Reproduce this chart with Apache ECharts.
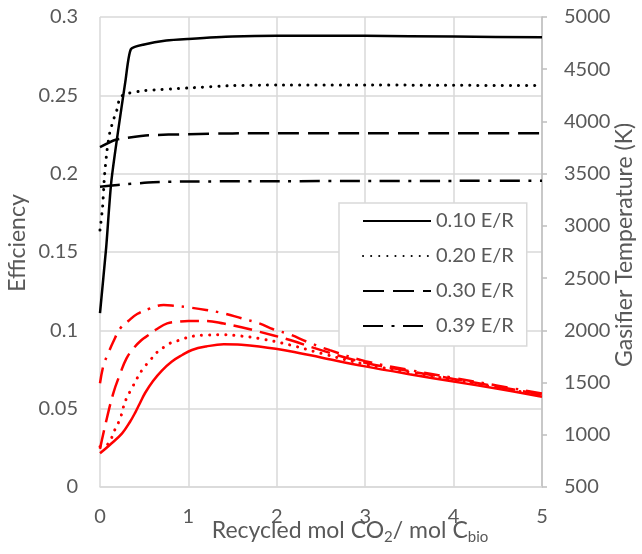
<!DOCTYPE html>
<html><head><meta charset="utf-8">
<script src="https://cdn.jsdelivr.net/npm/echarts@6/dist/echarts.min.js"></script>
<style>html,body{margin:0;padding:0;background:#fff}#c{width:642px;height:554px}</style>
</head><body><div id="c"></div>
<script>
// Legend names (equivalence ratio)
const seriesNames = ['0.10 E/R', '0.20 E/R', '0.30 E/R', '0.39 E/R'];

// Efficiency (left axis) - black curves
const effX010 = [0, 0.07, 0.13, 0.29, 0.35, 0.5, 0.75, 1, 1.5, 2, 3, 4, 5];
const eff010  = [0.111, 0.153, 0.196, 0.260, 0.2795, 0.2825, 0.285, 0.286, 0.2875, 0.288, 0.288, 0.2875, 0.287];
const effX020 = [0, 0.03, 0.05, 0.08, 0.11, 0.15, 0.19, 0.23, 0.32, 0.5, 1, 1.5, 2, 3, 4, 5];
const eff020  = [0.164, 0.179, 0.198, 0.215, 0.226, 0.234, 0.2405, 0.249, 0.2513, 0.253, 0.2547, 0.2562, 0.2566, 0.2566, 0.2564, 0.2562];
const effX030 = [0, 0.17, 0.3, 0.55, 1, 1.5, 2, 3, 4, 5];
const eff030  = [0.217, 0.2215, 0.2228, 0.2245, 0.2252, 0.2257, 0.2258, 0.2258, 0.2258, 0.2258];
const effX039 = [0, 0.2, 0.6, 1, 2, 3, 4, 5];
const eff039  = [0.1917, 0.1928, 0.1945, 0.195, 0.1952, 0.1953, 0.1954, 0.1955];

// Gasifier temperature in K (right axis) - red curves
const tX010 = [0, 0.11, 0.25, 0.34, 0.4, 0.45, 0.51, 0.6, 0.7, 0.81, 0.93, 1.04, 1.2, 1.4, 1.6, 1.8, 2.15, 2.5, 3, 3.5, 4, 4.5, 5];
const t010  = [823, 902, 1014, 1125, 1215, 1300, 1400, 1515, 1615, 1700, 1764, 1812, 1845, 1866, 1862, 1845, 1800, 1740, 1655, 1580, 1510, 1440, 1365];
const tX020 = [0, 0.09, 0.17, 0.23, 0.26, 0.3, 0.36, 0.42, 0.49, 0.57, 0.64, 0.72, 0.79, 0.88, 0.96, 1.06, 1.2, 1.4, 1.6, 1.8, 2.15, 2.5, 3, 3.5, 4, 4.5, 5];
const t020  = [886, 912, 1052, 1158, 1253, 1349, 1445, 1541, 1636, 1716, 1786, 1837, 1876, 1901, 1924, 1945, 1955, 1957, 1945, 1922, 1860, 1780, 1675, 1600, 1525, 1450, 1378];
const tX030 = [0, 0.06, 0.15, 0.23, 0.3, 0.38, 0.47, 0.55, 0.64, 0.76, 0.89, 1.0, 1.2, 1.4, 1.6, 1.8, 2.15, 2.5, 3, 3.5, 4, 4.5, 5];
const t030  = [865, 1094, 1397, 1589, 1732, 1828, 1907, 1955, 2010, 2067, 2083, 2090, 2090, 2065, 2030, 1987, 1907, 1810, 1690, 1610, 1535, 1460, 1385];
const tX039 = [0, 0.04, 0.09, 0.15, 0.23, 0.32, 0.42, 0.57, 0.72, 0.83, 1.0, 1.2, 1.4, 1.6, 1.8, 1.96, 2.15, 2.34, 2.6, 3, 3.5, 4, 4.5, 5];
const t039  = [1493, 1668, 1773, 1891, 2019, 2089, 2156, 2211, 2242, 2236, 2220, 2195, 2163, 2115, 2067, 2010, 1960, 1891, 1810, 1705, 1620, 1545, 1470, 1395];

// Axis titles
const xTitle = 'Recycled mol CO{s|2}/ mol C{s|bio}';
const yLeftTitle = 'Efficiency';
const yRightTitle = 'Gasifier Temperature (K)';

const zip = (xs, ys) => xs.map((x, i) => [x, ys[i]]);
const FONT = 'Lato';
const TXT = '#595959';
const GRID = '#d9d9d9';

const dashes = {
  solid: 'solid',
  dot: [0.1, 8],
  dash: [21, 9],
  dashdot: [20, 8.5, 3, 8.5]
};
const redDashes = {
  solid: 'solid',
  dot: [0.1, 8],
  dash: [19, 8],
  dashdot: [16, 8, 2.5, 8]
};
const styleKeys = ['solid', 'dot', 'dash', 'dashdot'];

const effData = [zip(effX010, eff010), zip(effX020, eff020), zip(effX030, eff030), zip(effX039, eff039)];
const tData = [zip(tX010, t010), zip(tX020, t020), zip(tX030, t030), zip(tX039, t039)];

const series = [];
effData.forEach((d, i) => {
  series.push({
    name: seriesNames[i], type: 'line', yAxisIndex: 0, data: d,
    symbol: 'none', smooth: 0.2, z: 3,
    lineStyle: { color: '#000', width: i === 1 ? 3 : 2.5, type: dashes[styleKeys[i]], cap: i === 1 ? 'round' : 'butt' },
    itemStyle: { color: '#000' }
  });
});
tData.forEach((d, i) => {
  series.push({
    name: 'T ' + seriesNames[i], type: 'line', yAxisIndex: 1, data: d,
    symbol: 'none', smooth: 0.4, z: 2,
    lineStyle: { color: '#ff0000', width: i === 1 ? 3 : 2.5, type: redDashes[styleKeys[i]], cap: i === 1 ? 'round' : 'butt' },
    itemStyle: { color: '#ff0000' }
  });
});

const chart = echarts.init(document.getElementById('c'), null, { renderer: 'canvas' });
chart.setOption({
  animation: false,
  backgroundColor: '#fff',
  grid: { left: 100, right: 100, top: 17, bottom: 67, containLabel: false },
  xAxis: {
    type: 'value', min: 0, max: 5, interval: 1,
    axisLine: { show: true, lineStyle: { color: GRID, width: 1.5 } },
    axisTick: { show: false },
    axisLabel: { color: TXT, fontFamily: FONT, fontSize: 20, margin: 20 },
    splitLine: { show: true, lineStyle: { color: GRID, width: 1.5 } }
  },
  yAxis: [
    {
      type: 'value', min: 0, max: 0.3, interval: 0.05, position: 'left',
      axisLine: { show: false }, axisTick: { show: false },
      axisLabel: { color: TXT, fontFamily: FONT, fontSize: 20, margin: 22,
        formatter: v => String(+v.toFixed(2)) },
      splitLine: { show: true, lineStyle: { color: GRID, width: 1.5 } }
    },
    {
      type: 'value', min: 500, max: 5000, interval: 500, position: 'right',
      axisLine: { show: true, lineStyle: { color: '#bfbfbf', width: 1.5 } },
      axisTick: { show: true, inside: false, length: 5, lineStyle: { color: '#bfbfbf', width: 1.5 } },
      axisLabel: { color: TXT, fontFamily: FONT, fontSize: 20, margin: 22,
        formatter: v => String(Math.round(v)) },
      splitLine: { show: false }
    }
  ],
  legend: {
    data: seriesNames,
    orient: 'vertical',
    left: 339, top: 203,
    padding: [8, 13, 10, 23],
    itemWidth: 68, itemHeight: 16, itemGap: 15,
    backgroundColor: '#fff',
    borderColor: GRID, borderWidth: 1.5, borderRadius: 0,
    itemStyle: { opacity: 0, borderWidth: 0 },
    textStyle: { color: TXT, fontFamily: FONT, fontSize: 20 }
  },
  graphic: [
    { type: 'text', x: 350, y: 531, z: 10,
      style: { text: xTitle, fill: TXT, font: '23px ' + FONT,
        align: 'center', verticalAlign: 'middle', textAlign: 'center', textVerticalAlign: 'middle',
        rich: { s: { fontSize: 15, fontFamily: FONT, fill: TXT, padding: [13, 0, 0, 0] } } } },
    { type: 'text', x: 18, y: 243, rotation: Math.PI / 2, z: 10,
      style: { text: yLeftTitle, fill: TXT, font: '23px ' + FONT,
        align: 'center', verticalAlign: 'middle', textAlign: 'center', textVerticalAlign: 'middle' } },
    { type: 'text', x: 625, y: 245, rotation: Math.PI / 2, z: 10,
      style: { text: yRightTitle, fill: TXT, font: '23px ' + FONT,
        align: 'center', verticalAlign: 'middle', textAlign: 'center', textVerticalAlign: 'middle' } }
  ],
  series: series
});
</script>
</body></html>
